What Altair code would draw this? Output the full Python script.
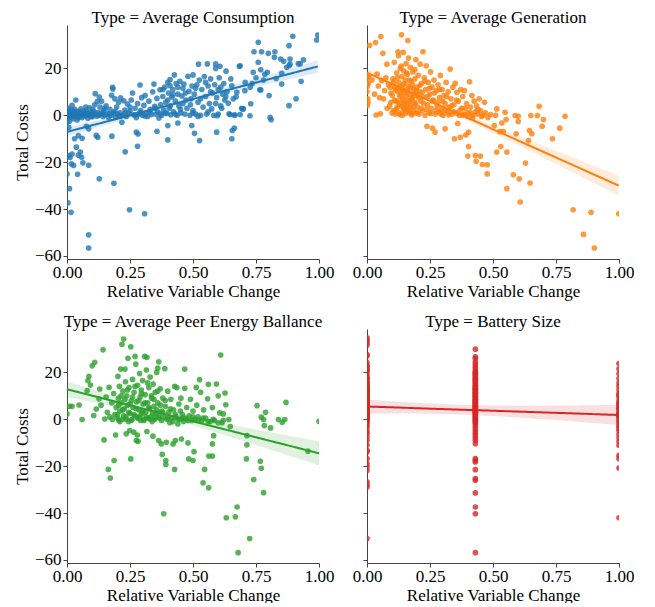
import altair as alt
import numpy as np
import pandas as pd

# ---------------- data ----------------
consumption_points = [
    (0.0, 1.5), (0.003, -1.2), (0.005, 3.0), (0.008, 0.2), (0.01, -2.5), (0.012, 2.2), (0.015, 0.5),
    (0.018, -0.8), (0.02, 4.2), (0.022, 1.0), (0.025, -1.5), (0.028, 0.3), (0.03, 2.5), (0.033, -0.3),
    (0.035, 6.5), (0.038, 1.2), (0.04, -2.0), (0.043, 0.0), (0.046, 1.8), (0.05, -0.5), (0.053, 0.8),
    (0.056, 2.8), (0.06, -1.0), (0.063, 0.4), (0.066, 1.5), (0.07, -0.2), (0.073, 0.9), (0.076, 2.0),
    (0.08, 0.1), (0.083, -1.3), (0.086, 0.6), (0.09, 3.2), (0.093, 0.0), (0.096, 1.1), (0.1, -0.6),
    (0.103, 2.4), (0.106, 0.3), (0.11, 4.5), (0.112, 9.2), (0.115, 0.7), (0.118, -0.4), (0.12, 5.8),
    (0.123, 1.3), (0.126, 0.0), (0.128, 7.8), (0.131, 3.5), (0.134, 0.5), (0.137, 6.0), (0.14, 1.0),
    (0.143, -0.5), (0.146, 2.0), (0.15, 0.2),
    (0.155, 4.0), (0.16, 0.6), (0.165, -1.0), (0.17, 2.5), (0.175, 0.0), (0.177, 8.5), (0.181, 11.9),
    (0.182, 11.2), (0.185, 1.2), (0.19, 7.0), (0.193, -0.8), (0.197, 3.5), (0.2, 0.4), (0.205, 5.5),
    (0.21, 1.0), (0.213, 7.4), (0.218, -3.0), (0.22, 0.0), (0.225, 6.2), (0.23, 2.2), (0.235, -0.5),
    (0.24, 4.8), (0.245, 0.8), (0.25, 1.8), (0.255, 6.5), (0.26, 9.5), (0.265, 0.2), (0.27, 3.0),
    (0.275, -1.0), (0.28, 5.0), (0.285, 0.5), (0.29, 12.9), (0.292, 2.0), (0.296, 7.5), (0.3, 0.0),
    (0.305, 4.2), (0.31, 8.4), (0.315, 1.0), (0.32, -0.5), (0.325, 6.0), (0.33, 2.5), (0.335, 0.3),
    (0.34, 10.0), (0.345, 13.3), (0.348, 3.8),
    (0.352, 0.5), (0.357, 7.2), (0.36, 1.5), (0.365, -1.2), (0.369, 10.9), (0.372, 4.5), (0.376, 0.0),
    (0.38, 8.0), (0.384, 2.2), (0.388, 12.0), (0.392, 5.6), (0.396, 0.8), (0.4, 14.0), (0.403, 9.5),
    (0.406, 3.0), (0.409, 15.2), (0.409, 12.6), (0.412, 0.2), (0.416, 7.8), (0.42, 11.0), (0.423, 1.5),
    (0.426, 17.2), (0.43, 6.0), (0.433, 13.5), (0.437, 0.0), (0.44, 9.0), (0.444, 4.0), (0.448, 14.5),
    (0.452, 1.0), (0.456, 8.2), (0.46, 11.5), (0.464, 13.3), (0.468, 0.5), (0.472, 6.5), (0.476, 3.0),
    (0.48, 16.6), (0.484, 10.2), (0.488, 0.0), (0.492, 7.0), (0.496, 12.5), (0.5, 17.2), (0.5, 2.0),
    (0.505, 9.0), (0.51, 0.5), (0.515, 13.0), (0.52, 5.5), (0.522, 21.8), (0.525, 15.0), (0.53, 0.0),
    (0.535, 11.0), (0.54, 3.5), (0.545, 16.5), (0.55, 8.0), (0.554, 0.5), (0.557, 21.9), (0.56, 12.5),
    (0.565, 5.0), (0.57, 15.5), (0.574, 2.7), (0.578, 9.5), (0.582, 0.0), (0.586, 13.0), (0.59, 21.9),
    (0.59, 20.0), (0.594, 7.5), (0.596, -0.2), (0.6, 11.0), (0.604, 16.0), (0.607, 20.9), (0.61, 4.0),
    (0.614, 3.0), (0.618, 9.0), (0.622, 13.5), (0.626, 6.5), (0.631, 18.8), (0.635, 10.0), (0.64, 5.1),
    (0.643, 0.6), (0.647, 0.3), (0.65, 15.5),
    (0.654, 12.6), (0.66, 7.0), (0.663, 0.1), (0.667, 0.1), (0.671, 7.9), (0.674, 9.8), (0.684, 20.9),
    (0.687, 0.3), (0.687, 21.1), (0.693, 3.0), (0.696, 2.7), (0.7, 2.7), (0.706, 10.5), (0.707, 14.0),
    (0.726, -0.2), (0.727, 11.9), (0.729, 4.9), (0.735, 13.5), (0.739, 18.3), (0.742, 27.1), (0.75, 16.0),
    (0.759, 31.1), (0.759, 22.6), (0.765, 10.9), (0.769, 19.4), (0.769, 10.8), (0.772, 27.1), (0.78, 15.0),
    (0.785, 17.5), (0.795, 18.3), (0.799, 26.4), (0.802, 8.4),
    (0.823, 24.7), (0.825, 27.1), (0.83, 15.7), (0.848, 24.0), (0.852, 17.9), (0.852, 13.3), (0.86, 23.0),
    (0.872, 20.5), (0.881, 29.7), (0.881, 4.1), (0.882, 21.2), (0.885, 24.0), (0.885, 21.8), (0.896, 33.7),
    (0.909, 7.0), (0.918, 22.0), (0.925, 21.9), (0.929, 14.5), (0.938, 23.6), (0.991, 32.1), (0.995, 34.2),
    # negatives / outliers
    (0.0, -25.0), (0.01, -31.3), (0.004, -37.3), (0.016, -41.4), (0.086, -51.0), (0.086, -56.6),
    (0.128, -27.1), (0.186, -29.0), (0.248, -40.3), (0.308, -42.0), (0.231, -15.6), (0.086, -21.3),
    (0.007, -17.2), (0.02, -16.5), (0.017, -20.7), (0.026, -21.4), (0.037, -13.6), (0.053, -15.7),
    (0.058, -17.9), (0.063, -20.3), (0.042, -25.2), (0.03, -10.0), (0.06, -9.8), (0.178, -8.9),
    (0.116, -8.6), (0.122, -9.4), (0.28, -13.2), (0.275, -7.2), (0.282, -8.0), (0.357, -6.8),
    (0.4, -10.5), (0.4, -4.4), (0.44, -3.3), (0.495, -4.4), (0.506, -7.7), (0.526, -10.8),
    (0.594, -7.2), (0.654, -10.0), (0.656, -6.5), (0.664, -5.5), (0.806, -0.9), (0.81, -1.9),
    (0.086, -5.8), (0.077, -4.7), (0.045, -8.7), (0.007, -5.1), (0.0, -3.0), (0.012, -18.0), (0.045, -17.0),
    # dense band
    (0.005, 0.5), (0.015, -0.3), (0.025, 1.8), (0.035, 0.2), (0.045, -1.0), (0.055, 1.2), (0.065, 0.0),
    (0.075, 3.5), (0.085, 0.8), (0.095, -0.5), (0.105, 1.5), (0.15, 3.0), (0.17, 0.5), (0.19, 1.8),
    (0.21, -0.5), (0.23, 0.8), (0.25, 3.5), (0.27, 0.2), (0.29, 1.0), (0.31, -0.3), (0.33, 1.5),
    (0.35, 3.0), (0.37, 0.6), (0.39, 1.0), (0.41, 4.0), (0.43, 0.5), (0.45, 2.5), (0.47, 9.5),
    (0.49, 4.5), (0.51, 11.5), (0.53, 7.0), (0.55, 14.0), (0.57, 10.0), (0.59, 5.0), (0.61, 12.0),
    (0.63, 8.0), (0.5, 1.0), (0.52, -0.5), (0.56, 1.5), (0.6, 0.5), (0.4, 6.5), (0.42, 8.8), (0.44, 12.0),
    (0.46, 5.0), (0.38, 11.0),
]

generation_points = [
    (0.0, 14.0), (0.001, 12.3), (0.002, 16.0), (0.004, 5.5), (0.001, 4.1), (0.003, 7.0), (0.0, 10.0),
    (0.005, 13.5), (0.007, 16.6), (0.01, 29.8), (0.034, 31.0), (0.055, 33.6), (0.063, 26.4),
    (0.02, 15.0), (0.03, 9.0), (0.036, 0.1), (0.04, 17.6), (0.045, 12.5), (0.05, 7.5), (0.053, 0.6),
    (0.059, 14.8), (0.066, 7.0), (0.07, 10.5), (0.075, 16.0), (0.079, 21.8), (0.08, 3.0), (0.085, 13.0),
    (0.092, 11.9), (0.095, 5.5), (0.1, 8.5), (0.103, 15.5), (0.105, 2.0), (0.108, 22.6), (0.11, 12.0),
    (0.112, 0.5), (0.115, 6.0), (0.118, 18.0), (0.12, 3.5), (0.122, 10.0), (0.123, 27.1), (0.125, 25.4),
    (0.126, 14.0), (0.128, 1.0), (0.13, 8.0), (0.132, 20.0), (0.134, 4.5), (0.135, 11.5), (0.137, 34.3),
    (0.138, 16.5), (0.14, 0.0), (0.141, 7.0), (0.142, 13.0), (0.144, 26.8), (0.145, 2.5), (0.146, 19.0),
    (0.148, 9.5), (0.15, 5.0), (0.152, 15.0), (0.153, 0.8), (0.155, 22.0), (0.156, 11.0), (0.158, 3.0),
    (0.16, 17.5), (0.162, 31.9), (0.163, 6.5), (0.165, 24.4), (0.166, 12.5), (0.168, 1.5), (0.17, 9.0),
    (0.172, 20.5), (0.174, 4.0), (0.176, 14.5), (0.178, 0.2), (0.18, 7.5), (0.182, 18.5), (0.184, 2.0),
    (0.186, 11.0), (0.188, 5.5), (0.19, 15.5), (0.192, 1.0), (0.194, 23.7), (0.196, 8.5), (0.198, 12.0),
    (0.2, 3.5),
    (0.203, 17.0), (0.206, 0.5), (0.209, 10.0), (0.211, 21.8), (0.214, 6.0), (0.217, 13.5), (0.22, 2.0),
    (0.222, 27.1), (0.224, 8.0), (0.227, 16.0), (0.23, 0.0), (0.233, 11.0), (0.235, 21.1), (0.238, -4.7),
    (0.24, 4.5), (0.243, 14.0), (0.246, 1.0), (0.249, 9.0), (0.252, 18.5), (0.255, 3.0), (0.258, 12.0),
    (0.26, -5.5), (0.263, 6.5), (0.266, 15.0), (0.27, -7.2), (0.272, 0.5), (0.275, 10.5), (0.278, 4.0),
    (0.282, 13.0), (0.285, 1.5), (0.288, 7.5), (0.291, 17.0), (0.295, 2.5), (0.298, 11.0),
    (0.302, 0.0), (0.306, 8.5), (0.31, -5.8), (0.31, 5.0), (0.314, 14.0), (0.318, 1.5), (0.322, 10.0),
    (0.326, 3.5), (0.33, 19.7), (0.333, 7.0), (0.337, 0.5), (0.341, 12.0), (0.345, 4.5), (0.347, -10.0),
    (0.35, 13.6), (0.353, 1.0), (0.357, 9.8), (0.36, -3.5), (0.362, 6.0), (0.366, 0.0), (0.37, -9.4),
    (0.372, 11.0), (0.376, 3.0), (0.38, 8.0), (0.384, 0.5), (0.387, 10.5), (0.392, -8.4), (0.395, 5.0),
    (0.4, 1.0), (0.403, -7.2), (0.403, -13.3), (0.4, -17.4), (0.407, 14.3), (0.41, 3.5), (0.416, 8.4),
    (0.42, 0.0), (0.425, 6.0), (0.43, -17.2), (0.43, 1.5), (0.433, -19.6), (0.435, 4.0), (0.44, 0.5),
    (0.445, 7.0), (0.45, -17.4), (0.45, 2.0), (0.458, -21.0), (0.46, 0.0), (0.466, 5.5), (0.47, 1.0),
    (0.477, -21.1), (0.477, -25.0), (0.48, -1.0),
    (0.49, 0.3), (0.505, -4.4), (0.51, 0.0), (0.515, 2.7), (0.515, -15.7), (0.528, -7.0), (0.531, -13.3),
    (0.535, -3.3), (0.541, -7.0), (0.548, 1.3), (0.552, -1.8), (0.555, -15.7), (0.555, -31.3),
    (0.581, -25.4), (0.588, -0.1), (0.592, -7.9), (0.6, -0.4), (0.6, -2.7), (0.604, -27.1), (0.608, -37.0),
    (0.629, -20.4), (0.641, -10.8), (0.645, -6.5), (0.647, -28.9), (0.65, -0.1), (0.654, -7.9),
    (0.676, -0.1), (0.683, 3.8), (0.695, -4.7), (0.7, -1.8), (0.736, -10.0), (0.765, -5.5), (0.786, -0.4),
    (0.818, -40.3), (0.859, -50.8), (0.889, -41.4), (0.902, -56.6), (0.999, -42.0),
    # dense cluster
    (0.09, 4.0), (0.095, 9.5), (0.1, 1.0), (0.105, 14.0), (0.11, 6.5), (0.113, 10.8), (0.117, 2.8),
    (0.12, 16.0), (0.124, 5.5), (0.127, 12.0), (0.13, 0.3), (0.133, 9.0), (0.136, 21.0), (0.139, 3.8),
    (0.142, 10.5), (0.146, 6.0), (0.149, 13.5), (0.151, 1.8), (0.154, 8.0), (0.157, 18.0), (0.159, 4.5),
    (0.161, 10.0), (0.164, 2.2), (0.167, 15.0), (0.17, 5.8), (0.173, 11.8), (0.175, 0.8), (0.177, 7.0),
    (0.181, 13.0), (0.183, 3.5), (0.187, 9.0), (0.19, 19.5), (0.193, 5.0), (0.197, 10.5), (0.201, 1.2),
    (0.205, 7.5), (0.21, 12.8), (0.215, 3.0), (0.219, 9.8), (0.225, 5.0), (0.23, 14.5), (0.236, 2.5),
    (0.242, 8.0), (0.248, 11.5), (0.254, 0.8), (0.26, 6.0), (0.267, 9.5), (0.274, 2.0), (0.28, 5.5),
    (0.287, 11.0), (0.294, 0.5), (0.3, 6.0), (0.308, 2.0), (0.316, 8.0), (0.324, 0.2), (0.335, 4.0),
    (0.343, 1.5), (0.355, 6.5), (0.368, 2.0), (0.38, 0.0), (0.39, 3.0), (0.4, -0.5), (0.41, 1.0),
    (0.42, -1.0), (0.44, 2.5), (0.455, -0.5),
]

peer_points = [
    (0.0, 2.3), (0.01, 5.5), (0.02, 5.5), (0.048, 6.1), (0.06, -0.1),
    (0.08, 12.2), (0.083, 16.5), (0.087, 18.3), (0.093, 14.6), (0.1, 22.8), (0.106, 1.6), (0.11, 24.3),
    (0.116, 4.4), (0.127, 8.7), (0.13, 12.9), (0.135, 6.0), (0.143, 29.6), (0.147, -8.8), (0.15, 0.1),
    (0.155, 9.5), (0.16, 3.0), (0.164, -21.4), (0.167, 13.6), (0.17, 1.0), (0.172, -25.1), (0.178, 7.0),
    (0.18, 0.0), (0.185, 11.0), (0.187, -17.6), (0.19, 2.0), (0.193, -6.7), (0.195, 5.0),
    (0.2, 0.5), (0.202, 18.3), (0.204, 9.0), (0.206, -0.5), (0.208, 14.0), (0.21, 3.5), (0.213, 21.4),
    (0.215, 7.0), (0.218, 32.0), (0.22, 0.0), (0.222, 12.0), (0.225, 34.2), (0.227, 4.5), (0.23, 21.4),
    (0.232, 16.0), (0.234, 1.0), (0.235, -6.2), (0.237, 10.0), (0.24, 6.0), (0.242, 26.0), (0.244, -1.0),
    (0.246, 13.5), (0.249, -4.8), (0.25, 2.5), (0.253, 30.9), (0.253, -16.9), (0.255, 8.0), (0.258, 0.0),
    (0.26, 17.0), (0.262, 5.0), (0.265, -5.5), (0.266, 11.5), (0.27, 26.8), (0.27, 1.5), (0.273, 23.5),
    (0.275, -9.1), (0.276, 7.5), (0.279, -6.7), (0.28, 14.5), (0.282, -9.4), (0.283, 0.5), (0.286, 4.0),
    (0.288, 19.5), (0.29, 9.5), (0.292, -0.5), (0.295, 12.5), (0.298, 2.5), (0.3, 16.5), (0.302, 6.5),
    (0.305, 0.0), (0.308, 26.8), (0.31, 10.5), (0.312, 3.0), (0.315, 21.0), (0.317, 26.4), (0.317, -5.2),
    (0.32, 7.0), (0.322, 0.5), (0.325, 13.5), (0.328, 4.5), (0.33, 18.0), (0.333, 1.0), (0.336, 9.0),
    (0.338, -1.0), (0.341, -7.2), (0.342, 15.0), (0.345, 5.5), (0.348, 0.0), (0.35, 11.5), (0.353, 2.5),
    (0.356, 20.0), (0.36, 21.8), (0.36, 7.0), (0.364, 24.5), (0.364, -9.1), (0.366, 0.5), (0.37, 13.0),
    (0.374, -10.5), (0.375, 3.5), (0.378, -15.0), (0.38, 9.0), (0.384, -40.3), (0.385, 1.0), (0.388, 21.6),
    (0.39, 5.5), (0.392, -17.6), (0.392, -19.3), (0.394, -9.8), (0.396, 0.0), (0.4, 12.0), (0.404, 3.0),
    (0.408, -1.5), (0.412, 8.5), (0.416, 0.5), (0.421, -10.5), (0.423, 4.0), (0.427, 14.0), (0.427, -21.4),
    (0.43, -9.1), (0.432, 1.0), (0.436, 13.5), (0.44, -2.0), (0.444, 6.5), (0.448, 0.0), (0.452, 9.0),
    (0.454, -8.4), (0.458, 2.0), (0.462, -1.0),
    (0.467, 21.4), (0.467, 13.2), (0.47, 0.5), (0.475, 5.0), (0.48, -10.1), (0.483, -16.9), (0.485, 1.5),
    (0.49, 8.5), (0.495, -0.5), (0.5, -17.6), (0.5, 3.5), (0.504, -13.8), (0.508, 0.0), (0.513, 13.6),
    (0.515, 6.0), (0.52, 1.0), (0.526, 16.9), (0.53, 11.5), (0.535, -0.5), (0.54, -27.1), (0.542, 4.0),
    (0.546, -21.4), (0.55, 0.5), (0.558, 8.7), (0.561, 14.9), (0.562, -29.2), (0.563, -15.7), (0.568, -1.0),
    (0.577, -15.7), (0.577, -10.5), (0.577, 5.0), (0.582, -7.0), (0.585, -0.5), (0.593, 15.0), (0.6, 10.0),
    (0.606, 2.7), (0.61, 27.4), (0.615, -1.5), (0.62, 2.3), (0.627, 11.2), (0.63, 6.2), (0.632, -42.0),
    (0.642, -0.1), (0.648, -3.1),
    (0.668, -41.6), (0.675, -37.4), (0.679, -56.9), (0.712, -16.9), (0.714, -7.0), (0.714, -10.9),
    (0.725, -50.9), (0.741, -25.7), (0.754, 5.8), (0.767, -17.9), (0.771, -20.9), (0.771, 0.9), (0.78, -0.1),
    (0.78, -31.3), (0.783, -2.7), (0.788, 3.0), (0.808, -3.7), (0.839, -0.1), (0.854, -1.3), (0.864, -0.1),
    (0.869, 7.2), (0.956, -13.6), (1.0, -0.9),
    # dense cluster
    (0.2, 2.0), (0.205, 6.0), (0.21, -1.0), (0.215, 10.0), (0.22, 4.0), (0.225, 1.5), (0.23, 8.5),
    (0.235, 0.0), (0.24, 12.5), (0.245, 3.0), (0.25, 6.5), (0.255, -0.5), (0.26, 9.5), (0.265, 2.0),
    (0.27, 14.0), (0.275, 4.5), (0.28, 0.5), (0.285, 8.0), (0.29, 1.5), (0.295, 11.0), (0.3, 3.5),
    (0.305, -0.5), (0.31, 7.0), (0.315, 1.0), (0.32, 15.5), (0.325, 5.0), (0.33, 0.0), (0.335, 10.0),
    (0.34, 2.5), (0.345, 8.5), (0.35, 0.5), (0.355, 4.0), (0.36, 12.0), (0.365, 1.5), (0.37, 6.0),
    (0.375, -0.5), (0.38, 3.0), (0.39, 8.0), (0.4, 0.5), (0.41, 4.5), (0.42, -1.0), (0.43, 2.0),
    (0.44, 0.0), (0.45, 3.5), (0.46, 0.5), (0.48, -0.5), (0.5, 1.0), (0.52, -0.5), (0.54, 0.5),
    (0.56, -1.0), (0.58, 0.0), (0.6, -1.5), (0.62, -0.5),
]

battery_levels = [0.0, 0.43, 1.0]
battery_costs_at_0 = [
    34.7, 33.7, 32.7, 31.6, 27.6, 27.0, 24.2, 23.0, 22.5, 21.6, 20.8, 20.2, 19.0, 18.0, 17.5, 17.0, 16.0,
    15.5, 15.0, 14.5, 14.0, 13.5, 13.0, 12.5, 12.2, 12.0, 11.5, 11.0, 10.8, 10.5, 10.0, 9.5, 9.2, 9.0,
    8.5, 8.0, 7.8, 7.5, 7.0, 6.8, 6.5, 6.0, 5.5, 5.2, 5.0, 4.5, 4.2, 4.0, 3.5, 3.2, 3.0, 2.8, 2.5, 2.0,
    1.8, 1.5, 1.2, 1.0, 0.5, 0.0, 0.0, -0.5, -1.0, -1.5, -2.5, -3.5, -5.0, -6.0, -7.5, -9.0, -11.0,
    -13.2, -14.0, -16.8, -18.9, -20.3, -21.8, -26.7, -27.9, -28.9, -50.9,
]
battery_costs_at_043 = [
    29.9, 26.6, 25.9, 24.5, 23.5, 22.5, 21.5, 20.5, 20.0, 19.5, 19.0, 18.5, 18.0, 17.5, 17.0, 16.5, 16.0,
    15.5, 15.0, 14.5, 14.0, 13.5, 13.0, 12.8, 12.5, 12.0, 11.5, 11.2, 11.0, 10.5, 10.0, 9.8, 9.5, 9.0,
    8.5, 8.2, 8.0, 7.5, 7.0, 7.0, 6.5, 6.0, 6.0, 5.5, 5.0, 5.0, 4.5, 4.0, 4.0, 3.5, 3.0, 3.0, 2.5, 2.0,
    1.5, 1.0, 0.5, 0.0, -0.5, -1.0, -1.5, -2.0, -3.0, -4.0, -5.0, -6.0, -7.0, -8.0, -9.0, -10.4,
    -16.8, -17.5, -18.2, -21.5, -25.3, -26.0, -31.4, -37.4, -40.3, -56.9,
]
battery_costs_at_1 = [
    23.8, 21.5, 19.5, 17.4, 15.5, 14.0, 12.5, 11.0, 10.2, 9.5, 8.0, 7.0, 6.5, 6.0, 5.0, 4.5, 4.0, 3.0,
    2.5, 2.0, 1.5, 1.0, 0.0, -1.0, -2.0, -3.0, -4.0, -5.0, -6.5, -8.0, -9.5, -11.1, -15.4, -16.8, -20.8,
    -42.0,
]

panel_titles = [
    "Type = Average Consumption",
    "Type = Average Generation",
    "Type = Average Peer Energy Ballance",
    "Type = Battery Size",
]
panel_colors = ["#1f77b4", "#ff7f0e", "#2ca02c", "#d62728"]
x_ticks = [0.0, 0.25, 0.5, 0.75, 1.0]
y_ticks = [-60, -40, -20, 0, 20]

battery_points = (
    [(battery_levels[0], v) for v in battery_costs_at_0]
    + [(battery_levels[1], v) for v in battery_costs_at_043]
    + [(battery_levels[2], v) for v in battery_costs_at_1]
)

FONT = "Liberation Serif"
Y_DOMAIN = [-61.3, 38.5]


def fit_frame(points):
    arr = np.array(points, dtype=float)
    x, y = arr[:, 0], arr[:, 1]
    n = len(x)
    b, a = np.polyfit(x, y, 1)
    resid = y - (a + b * x)
    s = np.sqrt(np.sum(resid ** 2) / (n - 2))
    xbar = x.mean()
    sxx = np.sum((x - xbar) ** 2)
    grid = np.linspace(x.min(), x.max(), 101)
    yhat = a + b * grid
    se = s * np.sqrt(1.0 / n + (grid - xbar) ** 2 / sxx)
    return pd.DataFrame({"x": grid, "yhat": yhat, "lo": yhat - 1.96 * se, "hi": yhat + 1.96 * se})


def panel(points, color, title, left):
    df = pd.DataFrame(points, columns=["x", "y"])
    fit = fit_frame(points)
    xscale = alt.Scale(domain=[0, 1], nice=False, zero=False)
    yscale = alt.Scale(domain=Y_DOMAIN, nice=False, zero=False)
    xaxis = alt.Axis(values=x_ticks, format=".2f", title="Relative Variable Change", grid=False,
                     labelFlush=False)
    if left:
        yaxis = alt.Axis(values=y_ticks, title="Total Costs", grid=False, labelFlush=False)
    else:
        yaxis = alt.Axis(values=y_ticks, title="", labels=False, grid=False)

    pts = alt.Chart(df).mark_circle(size=32, opacity=0.8, color=color, clip=True).encode(
        x=alt.X("x:Q", scale=xscale, axis=xaxis),
        y=alt.Y("y:Q", scale=yscale, axis=yaxis),
    )
    band = alt.Chart(fit).mark_area(color=color, opacity=0.15).encode(
        x=alt.X("x:Q", scale=xscale),
        y=alt.Y("lo:Q", scale=yscale),
        y2="hi:Q",
    )
    line = alt.Chart(fit).mark_line(color=color, strokeWidth=2).encode(
        x=alt.X("x:Q", scale=xscale),
        y=alt.Y("yhat:Q", scale=yscale),
    )
    return alt.layer(pts, band, line).properties(width=252, height=234, title=title)


p1 = panel(consumption_points, panel_colors[0], panel_titles[0], True)
p2 = panel(generation_points, panel_colors[1], panel_titles[1], False)
p3 = panel(peer_points, panel_colors[2], panel_titles[2], True)
p4 = panel(battery_points, panel_colors[3], panel_titles[3], False)

row1 = alt.hconcat(p1, p2, spacing=18)
row2 = alt.hconcat(p3, p4, spacing=18)
chart = (
    alt.vconcat(row1, row2, spacing=13)
    .properties(padding={"left": 5, "top": 0, "right": 0, "bottom": 0})
    .configure_view(stroke=None)
    .configure_axis(
        labelFont=FONT,
        titleFont=FONT,
        labelFontSize=17,
        titleFontSize=17,
        titleFontWeight="normal",
        labelColor="#000000",
        titleColor="#000000",
        domainColor="#444444",
        tickColor="#444444",
        tickSize=4,
        domainWidth=1,
    )
    .configure_axisX(labelPadding=1, titlePadding=3)
    .configure_axisY(labelPadding=2, titlePadding=3)
    .configure_title(
        font=FONT, fontSize=17, fontWeight="normal", color="#000000", anchor="middle", offset=-1.5
    )
)

chart.save("out.html", embed_options={"renderer": "svg", "actions": False})
